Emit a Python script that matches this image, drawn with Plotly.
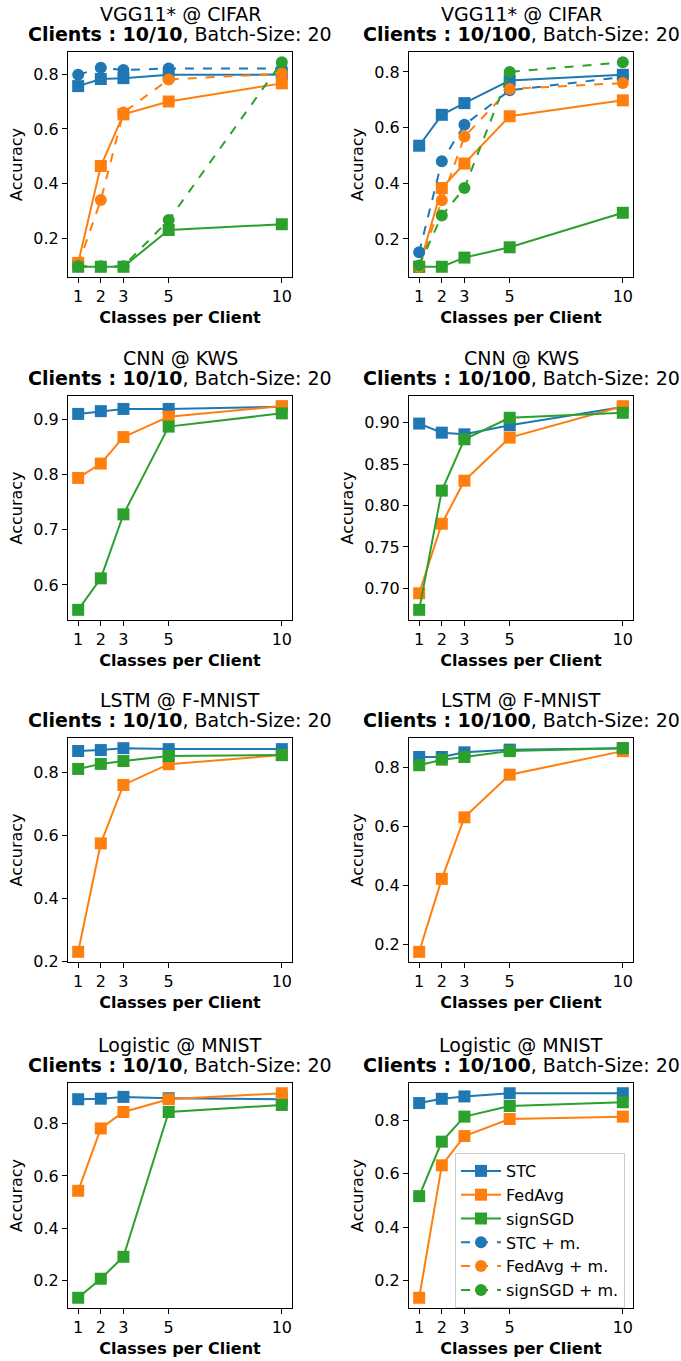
import plotly.graph_objects as go

# ---------------- data ----------------
classes = [1, 2, 3, 5, 10]
x_ticks = [1, 2, 3, 5, 10]

# VGG11* @ CIFAR, 10/10
vgg10_stc = [0.756, 0.782, 0.785, 0.797, 0.798]
vgg10_fedavg = [0.112, 0.465, 0.653, 0.700, 0.766]
vgg10_signsgd = [0.098, 0.098, 0.098, 0.232, 0.253]
vgg10_stc_m = [0.797, 0.823, 0.815, 0.820, 0.820]
vgg10_fedavg_m = [0.105, 0.341, 0.660, 0.780, 0.802]
vgg10_signsgd_m = [0.100, 0.100, 0.100, 0.268, 0.843]

# VGG11* @ CIFAR, 10/100
vgg100_stc = [0.535, 0.646, 0.688, 0.769, 0.790]
vgg100_fedavg = [0.100, 0.383, 0.471, 0.641, 0.698]
vgg100_signsgd = [0.100, 0.100, 0.133, 0.170, 0.294]
vgg100_stc_m = [0.152, 0.479, 0.610, 0.734, 0.782]
vgg100_fedavg_m = [0.100, 0.339, 0.568, 0.739, 0.760]
vgg100_signsgd_m = [0.105, 0.284, 0.383, 0.800, 0.835]

# CNN @ KWS
kws10_stc = [0.910, 0.915, 0.919, 0.919, 0.923]
kws10_fedavg = [0.794, 0.820, 0.868, 0.905, 0.924]
kws10_signsgd = [0.555, 0.612, 0.728, 0.887, 0.911]
kws100_stc = [0.899, 0.888, 0.886, 0.897, 0.919]
kws100_fedavg = [0.694, 0.778, 0.830, 0.882, 0.920]
kws100_signsgd = [0.674, 0.818, 0.880, 0.906, 0.912]

# LSTM @ F-MNIST
lstm10_stc = [0.869, 0.872, 0.878, 0.875, 0.875]
lstm10_fedavg = [0.230, 0.575, 0.761, 0.827, 0.856]
lstm10_signsgd = [0.812, 0.828, 0.837, 0.853, 0.856]
lstm100_stc = [0.836, 0.836, 0.852, 0.861, 0.866]
lstm100_fedavg = [0.174, 0.422, 0.631, 0.776, 0.856]
lstm100_signsgd = [0.808, 0.827, 0.836, 0.856, 0.866]

# Logistic @ MNIST
log10_stc = [0.894, 0.896, 0.903, 0.898, 0.894]
log10_fedavg = [0.543, 0.782, 0.845, 0.894, 0.917]
log10_signsgd = [0.133, 0.206, 0.290, 0.845, 0.872]
log100_stc = [0.866, 0.882, 0.891, 0.903, 0.903]
log100_fedavg = [0.134, 0.632, 0.742, 0.806, 0.815]
log100_signsgd = [0.516, 0.721, 0.815, 0.855, 0.869]

series_names = ["STC", "FedAvg", "signSGD", "STC + m.", "FedAvg + m.", "signSGD + m."]
colors = ["#1f77b4", "#ff7f0e", "#2ca02c"]

panel_models = ["VGG11* @ CIFAR", "VGG11* @ CIFAR", "CNN @ KWS", "CNN @ KWS",
                "LSTM @ F-MNIST", "LSTM @ F-MNIST", "Logistic @ MNIST", "Logistic @ MNIST"]
panel_clients = ["10/10", "10/100"] * 4

panel_series = [
    [vgg10_stc, vgg10_fedavg, vgg10_signsgd, vgg10_stc_m, vgg10_fedavg_m, vgg10_signsgd_m],
    [vgg100_stc, vgg100_fedavg, vgg100_signsgd, vgg100_stc_m, vgg100_fedavg_m, vgg100_signsgd_m],
    [kws10_stc, kws10_fedavg, kws10_signsgd],
    [kws100_stc, kws100_fedavg, kws100_signsgd],
    [lstm10_stc, lstm10_fedavg, lstm10_signsgd],
    [lstm100_stc, lstm100_fedavg, lstm100_signsgd],
    [log10_stc, log10_fedavg, log10_signsgd],
    [log100_stc, log100_fedavg, log100_signsgd],
]

y_tickvals = [
    [0.2, 0.4, 0.6, 0.8],
    [0.2, 0.4, 0.6, 0.8],
    [0.6, 0.7, 0.8, 0.9],
    [0.70, 0.75, 0.80, 0.85, 0.90],
    [0.2, 0.4, 0.6, 0.8],
    [0.2, 0.4, 0.6, 0.8],
    [0.2, 0.4, 0.6, 0.8],
    [0.2, 0.4, 0.6, 0.8],
]
y_tickfmt = [".1f", ".1f", ".1f", ".2f", ".1f", ".1f", ".1f", ".1f"]

# ---------------- layout ----------------
W, H = 681, 1361
col_px = [(68, 292), (409, 633)]
row_px = [(52, 277), (396, 620), (738, 962), (1083, 1308)]
FONT = "DejaVu Sans"
TICK = 16
TITLE = 19

fig = go.Figure()
annotations = []
legend_done = set()

for i in range(8):
    r, c = divmod(i, 2)
    ax_id = "" if i == 0 else str(i + 1)
    xa, ya = "x" + ax_id, "y" + ax_id
    x0, x1 = col_px[c]
    t, b = row_px[r]
    xdom = [x0 / W, x1 / W]
    ydom = [1 - b / H, 1 - t / H]

    series = panel_series[i]
    allv = [v for s in series for v in s]
    lo, hi = min(allv), max(allv)
    pad = (hi - lo) * 0.05
    yrange = [lo - pad, hi + pad]

    for k, s in enumerate(series):
        dashed = k >= 3
        col = colors[k % 3]
        name = series_names[k]
        show = name not in legend_done
        legend_done.add(name)
        fig.add_trace(go.Scatter(
            x=classes, y=s, xaxis=xa, yaxis=ya, mode="lines+markers",
            name=name, showlegend=show, legendrank=k + 1,
            line=dict(color=col, width=2, dash="dash" if dashed else "solid"),
            marker=dict(symbol="circle" if dashed else "square",
                        size=12 if dashed else 12, color=col,
                        line=dict(color=col, width=0)),
        ))

    fig.update_layout(**{
        ("xaxis" + ax_id): dict(
            domain=xdom, anchor=ya, range=[0.55, 10.45],
            tickvals=x_ticks, ticktext=[str(v) for v in x_ticks],
            ticks="outside", ticklen=5, tickwidth=1, tickcolor="black",
            showline=True, linecolor="black", linewidth=1, mirror=True,
            showgrid=False, zeroline=False, automargin=False,
            tickfont=dict(family=FONT, size=TICK, color="black"),
            title=dict(text="<b>Classes per Client</b>", standoff=6,
                       font=dict(family=FONT, size=TICK, color="black")),
        ),
        ("yaxis" + ax_id): dict(
            domain=ydom, anchor=xa, range=yrange,
            tickvals=y_tickvals[i], tickformat=y_tickfmt[i],
            ticks="outside", ticklen=5, tickwidth=1, tickcolor="black",
            showline=True, linecolor="black", linewidth=1, mirror=True,
            showgrid=False, zeroline=False, automargin=False,
            tickfont=dict(family=FONT, size=TICK, color="black"),
            title=dict(text="Accuracy", standoff=6,
                       font=dict(family=FONT, size=TICK, color="black")),
        ),
    })

    cx = (x0 + x1) / 2 / W
    annotations.append(dict(
        text=panel_models[i], x=cx, y=1 - (t - 38) / H, xref="paper", yref="paper",
        xanchor="center", yanchor="middle", showarrow=False,
        font=dict(family=FONT, size=TITLE, color="black")))
    annotations.append(dict(
        text="<b>Clients : " + panel_clients[i] + "</b>, Batch-Size: 20",
        x=cx, y=1 - (t - 18) / H, xref="paper", yref="paper",
        xanchor="center", yanchor="middle", showarrow=False,
        font=dict(family=FONT, size=TITLE, color="black")))

fig.update_layout(
    width=W, height=H,
    margin=dict(l=0, r=0, t=0, b=0),
    paper_bgcolor="white", plot_bgcolor="white",
    font=dict(family=FONT, size=TICK, color="black"),
    annotations=annotations,
    legend=dict(
        x=455 / W, y=1 - 1153 / H, xanchor="left", yanchor="top",
        bgcolor="rgba(255,255,255,0.8)", bordercolor="#cccccc", borderwidth=1,
        font=dict(family=FONT, size=TICK, color="black"),
        itemwidth=40, tracegroupgap=0,
    ),
)

fig.write_html("out.html")
